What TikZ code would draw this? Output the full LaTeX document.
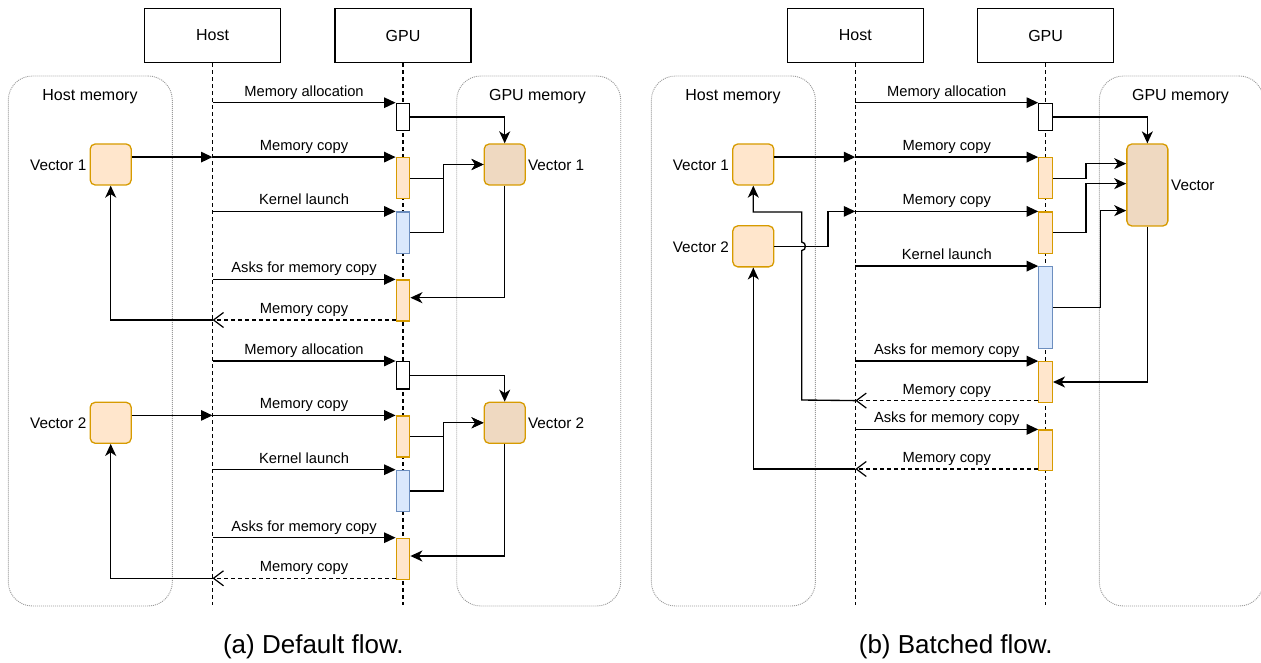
\documentclass[tikz,border=0pt]{standalone}
\usepackage{fontspec}
\setmainfont{Liberation Sans}
\usetikzlibrary{arrows.meta,calc}
\definecolor{vecfill}{HTML}{FFE6CC}
\definecolor{vecline}{HTML}{D79B00}
\definecolor{gvecfill}{HTML}{EFD9C1}
\definecolor{kfill}{HTML}{DAE8FC}
\definecolor{kline}{HTML}{6C8EBF}
\definecolor{memline}{HTML}{9A9A9A}

\begin{document}
\begin{tikzpicture}[x=1pt,y=-1pt,
  head/.style={draw=black, line width=1.3pt, fill=white, minimum width=136pt,
    minimum height=54.4pt, inner sep=0pt, font=\fontsize{16}{19}\selectfont},
  life/.style={line width=1.2pt, dash pattern=on 4pt off 3pt},
  memory/.style={draw=memline, line width=0.9pt, dash pattern=on 1pt off 1pt,
    rounded corners=24pt, minimum width=164pt, minimum height=530pt, inner sep=0pt},
  memtitle/.style={font=\fontsize{16}{19}\selectfont, anchor=base, inner sep=0pt},
  hvec/.style={draw=vecline, fill=vecfill, line width=1.3pt, rounded corners=5pt,
    minimum width=41pt, minimum height=41pt, inner sep=0pt},
  gvec/.style={hvec, fill=gvecfill},
  actw/.style={draw=black, fill=white, line width=1.2pt, minimum width=13.6pt, inner sep=0pt},
  acto/.style={actw, draw=vecline, fill=vecfill},
  actk/.style={actw, draw=kline, fill=kfill},
  lbl/.style={font=\fontsize{14.7}{17}\selectfont, anchor=base, inner sep=0pt},
  veclbl/.style={font=\fontsize{15.3}{18}\selectfont, inner sep=0pt},
  msg/.style={line width=1.35pt, -{Triangle[length=11.5pt,width=10.5pt]}},
  conn/.style={line width=1.35pt, -{Stealth[length=12pt,width=11pt,inset=3.5pt]}},
  ret/.style={line width=1.2pt, dash pattern=on 4pt off 3pt,
    -{Straight Barb[length=10pt,width=15pt,line width=1.2pt]}},
  caption/.style={font=\fontsize{26}{30}\selectfont, anchor=base, inner sep=0pt}
]
\useasboundingbox (0,0) rectangle (1261,663);
\clip (0,0) rectangle (1261,663);

% ---------------- (a) default flow ----------------
\node[memory] (hmA) at (90.3,341) {};
\node[memory] (gmA) at (538.7,341) {};
\node[memtitle] (hmAt) at (90,100.5) {Host memory};
\node[memtitle] (gmAt) at (537.5,100.5) {GPU memory};

\node[head] (hostA) at (212.5,35.5) {Host};
\node[head] (gpuA) at (403,35.5) {GPU};
\coordinate (hostAe) at (212.5,605);
\coordinate (gpuAe) at (403,605);
\draw[life] (hostA.south) -- (hostAe);
\draw[life] (gpuA.south) -- (gpuAe);

% activations, first vector
\node[actw, minimum height=27.4pt] (a1) at (403,117) {};
\node[acto, minimum height=41pt]   (a2) at (403,178.2) {};
\node[actk, minimum height=41.3pt] (a3) at (403,232.65) {};
\node[acto, minimum height=41pt]   (a4) at (403,300.5) {};
% activations, second vector
\node[actw, minimum height=27.4pt] (a5) at (403,375.3) {};
\node[acto, minimum height=41pt]   (a6) at (403,436.5) {};
\node[actk, minimum height=41.3pt] (a7) at (403,490.95) {};
\node[acto, minimum height=41pt]   (a8) at (403,558.8) {};

% vectors
\node[hvec] (v1h) at (110.7,164.5) {};
\node[gvec] (v1g) at (504.7,164.5) {};
\node[hvec] (v2h) at (110.7,422.8) {};
\node[gvec] (v2g) at (504.7,422.8) {};
\node[veclbl, anchor=east] (v1hl) at ($(v1h.west)+(-3,0.8)$) {Vector 1};
\node[veclbl, anchor=west] (v1gl) at ($(v1g.east)+(2,0.8)$) {Vector 1};
\node[veclbl, anchor=east] (v2hl) at ($(v2h.west)+(-3,0.8)$) {Vector 2};
\node[veclbl, anchor=west] (v2gl) at ($(v2g.east)+(2,0.8)$) {Vector 2};

% messages, first vector
\path (a1.north west -| hostA) coordinate (m1);
\path (a2.north west -| hostA) coordinate (m2);
\path (a3.north west -| hostA) coordinate (m3);
\path (a4.north west -| hostA) coordinate (m4);
\draw[msg] (m1) -- (a1.north west) node[lbl, midway, yshift=6.6pt] {Memory allocation};
\draw[msg] (v1h.east |- m2) -- (m2);
\draw[msg] (m2) -- (a2.north west) node[lbl, midway, yshift=6.6pt] {Memory copy};
\draw[msg] (m3) -- (a3.north west) node[lbl, midway, yshift=6.6pt] {Kernel launch};
\draw[msg] (m4) -- (a4.north west) node[lbl, midway, yshift=6.6pt] {Asks for memory copy};
\path ($(a4.south west)+(0,-1.6)$) coordinate (d1);
\path (d1 -| hostA) coordinate (r1);
\draw[ret] (d1) -- (r1) node[lbl, midway, yshift=6.6pt] {Memory copy};
\draw[conn] (r1) -| (v1h.south);
\draw[conn] (a1.east) -| (v1g.north);
\draw[conn] (a2.east) -- ++(33,0) |- (v1g.west);
\draw[conn] (a3.east) -- ++(33,0) |- (v1g.west);
\draw[conn] (v1g.south) |- ($(a4.east)+(0,-2.8)$);

% messages, second vector
\path (a5.north west -| hostA) coordinate (m5);
\path (a6.north west -| hostA) coordinate (m6);
\path (a7.north west -| hostA) coordinate (m7);
\path (a8.north west -| hostA) coordinate (m8);
\draw[msg] (m5) -- (a5.north west) node[lbl, midway, yshift=6.6pt] {Memory allocation};
\draw[msg] (v2h.east |- m6) -- (m6);
\draw[msg] (m6) -- (a6.north west) node[lbl, midway, yshift=6.6pt] {Memory copy};
\draw[msg] (m7) -- (a7.north west) node[lbl, midway, yshift=6.6pt] {Kernel launch};
\draw[msg] (m8) -- (a8.north west) node[lbl, midway, yshift=6.6pt] {Asks for memory copy};
\path ($(a8.south west)+(0,-1.6)$) coordinate (d2);
\path (d2 -| hostA) coordinate (r2);
\draw[ret] (d2) -- (r2) node[lbl, midway, yshift=6.6pt] {Memory copy};
\draw[conn] (r2) -| (v2h.south);
\draw[conn] (a5.east) -| (v2g.north);
\draw[conn] (a6.east) -- ++(33,0) |- (v2g.west);
\draw[conn] (a7.east) -- ++(33,0) |- (v2g.west);
\draw[conn] (v2g.south) |- ($(a8.east)+(0,-2.8)$);

\node[caption] (capA) at (313.4,653) {(a) Default flow.};

% ---------------- (b) batched flow ----------------
\node[memory] (hmB) at (733.4,341) {};
\node[memory] (gmB) at (1181.3,341) {};
\node[memtitle] (hmBt) at (733,100.5) {Host memory};
\node[memtitle] (gmBt) at (1180.5,100.5) {GPU memory};

\node[head] (hostB) at (855.3,35.5) {Host};
\node[head] (gpuB) at (1045.6,35.5) {GPU};
\coordinate (hostBe) at (855.3,605);
\coordinate (gpuBe) at (1045.6,605);
\draw[life] (hostB.south) -- (hostBe);
\draw[life] (gpuB.south) -- (gpuBe);

\node[actw, minimum height=27.4pt] (b1) at (1045.6,117) {};
\node[acto, minimum height=41pt]   (b2) at (1045.6,178.2) {};
\node[acto, minimum height=41.3pt] (b3) at (1045.6,232.65) {};
\node[actk, minimum height=81.6pt] (b4) at (1045.6,307.5) {};
\node[acto, minimum height=40.6pt] (b5) at (1045.6,382) {};
\node[acto, minimum height=40.7pt] (b6) at (1045.6,450.35) {};

\node[hvec] (v1b) at (753.3,164.5) {};
\node[hvec] (v2b) at (753.3,246.35) {};
\node[gvec, minimum height=82pt] (vec) at (1147.35,185) {};
\node[veclbl, anchor=east] (v1bl) at ($(v1b.west)+(-3,0.8)$) {Vector 1};
\node[veclbl, anchor=east] (v2bl) at ($(v2b.west)+(-3,0.8)$) {Vector 2};
\node[veclbl, anchor=west] (vecl) at ($(vec.east)+(2.5,0.8)$) {Vector};

\path (b1.north west -| hostB) coordinate (n1);
\path (b2.north west -| hostB) coordinate (n2);
\path (b3.north west -| hostB) coordinate (n3);
\path (b4.north west -| hostB) coordinate (n4);
\path (b5.north west -| hostB) coordinate (n5);
\path (b6.north west -| hostB) coordinate (n6);
\draw[msg] (n1) -- (b1.north west) node[lbl, midway, yshift=6.6pt] {Memory allocation};
\draw[msg] (v1b.east |- n2) -- (n2);
\draw[msg] (n2) -- (b2.north west) node[lbl, midway, yshift=6.6pt] {Memory copy};
\draw[msg] (v2b.east) -- ++(53.7,0) |- (n3);
\draw[msg] (n3) -- (b3.north west) node[lbl, midway, yshift=6.6pt] {Memory copy};
\draw[msg] (n4) -- (b4.north west) node[lbl, midway, yshift=6.6pt] {Kernel launch};
\draw[msg] (n5) -- (b5.north west) node[lbl, midway, yshift=6.6pt] {Asks for memory copy};
\draw[msg] (n6) -- (b6.north west) node[lbl, midway, yshift=6.6pt] {Asks for memory copy};

\path ($(b5.south west)+(0,-2.3)$) coordinate (e1);
\path (e1 -| hostB) coordinate (s1);
\draw[ret] (e1) -- (s1) node[lbl, midway, yshift=6.6pt] {Memory copy};
\path ($(b6.south west)+(0,-2.3)$) coordinate (e2);
\path (e2 -| hostB) coordinate (s2);
\draw[ret] (e2) -- (s2) node[lbl, midway, yshift=6.6pt] {Memory copy};

% return to Vector 1 hops over the Vector 2 line
\draw[conn] (s1) -- (801.7,400) -- (801.7,250.6)
  .. controls (806.6,250.6) and (806.6,242.1) .. (801.7,242.1)
  -- (801.7,212) -| (v1b.south);
\draw[conn] (s2) -| (v2b.south);

\draw[conn] (b1.east) -| (vec.north);
\draw[conn] (b2.east) -- ++(33,0) |- ($(vec.north west)+(0,20.3)$);
\draw[conn] (b3.east) -- ++(33,0) |- ($(vec.north west)+(0,40.3)$);
\draw[conn] (b4.east) -- ++(47.3,0) |- ($(vec.north west)+(0,67.3)$);
\draw[conn] (vec.south) |- (b5.east);

\node[caption] (capB) at (955.7,653) {(b) Batched flow.};
\end{tikzpicture}
\end{document}
